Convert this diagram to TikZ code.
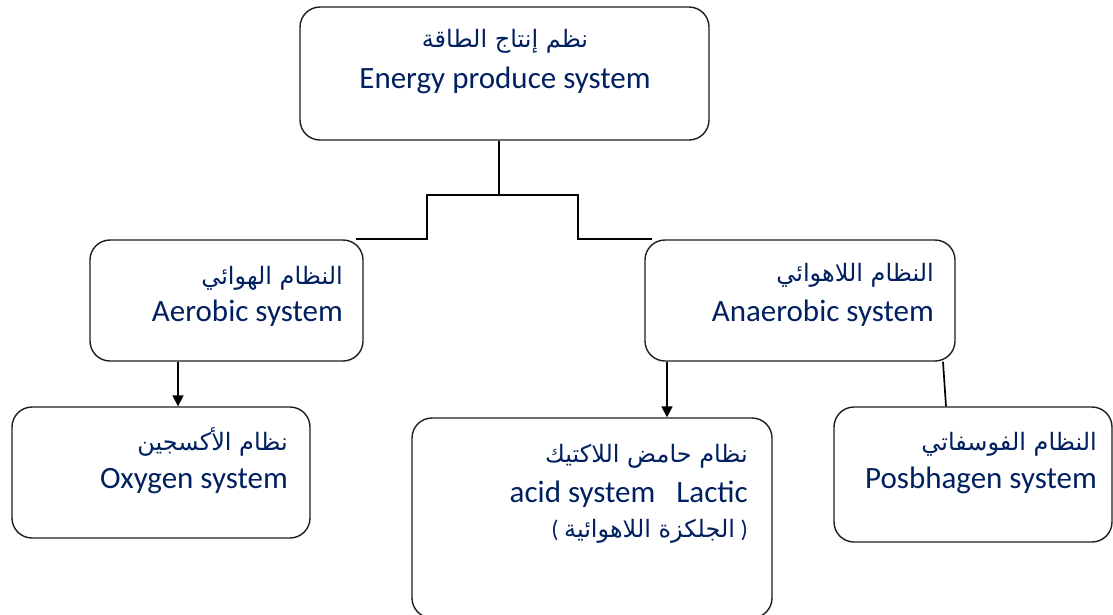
\documentclass[tikz,border=0pt]{standalone}
\usepackage{fontspec}
\setmainfont{Carlito}
\newfontfamily\arabicfont[Script=Arabic]{DejaVu Sans}
\TeXXeTstate=1
\usetikzlibrary{arrows.meta, calc}
\definecolor{sysNavy}{RGB}{0, 32, 96}
\definecolor{sysEdge}{RGB}{30, 30, 30}
\newcommand{\artext}[1]{{\arabicfont\beginR #1\endR}}
\tikzset{
    sysbox/.style={
        rectangle,
        rounded corners=20pt,
        draw=sysEdge,
        line width=1.4pt,
        fill=white
    },
    enline/.style={
        font=\fontsize{31}{36}\selectfont,
        text=sysNavy,
        inner sep=0pt
    },
    arline/.style={
        font=\fontsize{24}{30}\selectfont,
        text=sysNavy,
        inner sep=0pt
    },
    link/.style={
        line width=1.7pt,
        color=black
    },
    flow/.style={
        ->,
        >={Triangle[length=11pt, width=11pt]},
        line width=1.7pt,
        color=black
    }
}

\begin{document}
\begin{tikzpicture}[x=1pt, y=-1pt]
  \useasboundingbox (0,0) rectangle (1113,614);

  % Boxes
  \node[sysbox, minimum width=409pt, minimum height=133pt] (energy) at (504.5,73.5) {};
  \node[sysbox, minimum width=273pt, minimum height=121pt] (aerobic) at (226.5,300.5) {};
  \node[sysbox, minimum width=310pt, minimum height=121pt] (anaerobic) at (800,300.5) {};
  \node[sysbox, minimum width=298pt, minimum height=131pt] (oxygen) at (161,472.5) {};
  \node[sysbox, minimum width=360pt, minimum height=200pt] (lactic) at (592,518) {};
  \node[sysbox, minimum width=278pt, minimum height=135pt] (phosphagen) at (973,474.5) {};

  % Labels
  \node[arline, anchor=base] (energyAr) at (505,47) {\artext{نظم إنتاج الطاقة}};
  \node[enline, anchor=base] (energyEn) at (505,88) {Energy produce system};
  \node[arline, anchor=base east] (aerobicAr) at (343,284) {\artext{النظام الهوائي}};
  \node[enline, anchor=base east] (aerobicEn) at (343,321) {Aerobic system};
  \node[arline, anchor=base east] (anaerobicAr) at (934,281) {\artext{النظام اللاهوائي}};
  \node[enline, anchor=base east] (anaerobicEn) at (934,321) {Anaerobic system};
  \node[arline, anchor=base east] (oxygenAr) at (288,450) {\artext{نظام الأكسجين}};
  \node[enline, anchor=base east] (oxygenEn) at (288,488) {Oxygen system};
  \node[arline, anchor=base east] (lacticAr) at (748,462) {\artext{نظام حامض اللاكتيك}};
  \node[enline, anchor=base east] (lacticEn) at (748,502) {acid system\ \ \ Lactic};
  \node[arline, anchor=base east] (lacticGl) at (748,537) {(\ \artext{الجلكزة اللاهوائية}\ )};
  \node[arline, anchor=base east] (phosphagenAr) at (1097,450) {\artext{النظام الفوسفاتي}};
  \node[enline, anchor=base east] (phosphagenEn) at (1097,488) {Posbhagen system};

  % Connectors
  \coordinate (split) at (499,195);
  \coordinate (leftbend) at (427,195);
  \coordinate (rightbend) at (578,195);
  \coordinate (aerodrop) at (178,0);
  \coordinate (lacdrop) at (667,0);
  \draw[link] (energy.south -| split) -- (split);
  \draw[link] ([xshift=-8pt]aerobic.north east) -| (leftbend) -- (rightbend)
    |- ([xshift=8pt]anaerobic.north west);
  \draw[flow] (aerobic.south -| aerodrop) -- (oxygen.north -| aerodrop);
  \draw[flow] (anaerobic.south -| lacdrop) -- (lactic.north -| lacdrop);
  \draw[link] ([xshift=143pt]anaerobic.south) -- ([xshift=-27pt]phosphagen.north);
\end{tikzpicture}
\end{document}
